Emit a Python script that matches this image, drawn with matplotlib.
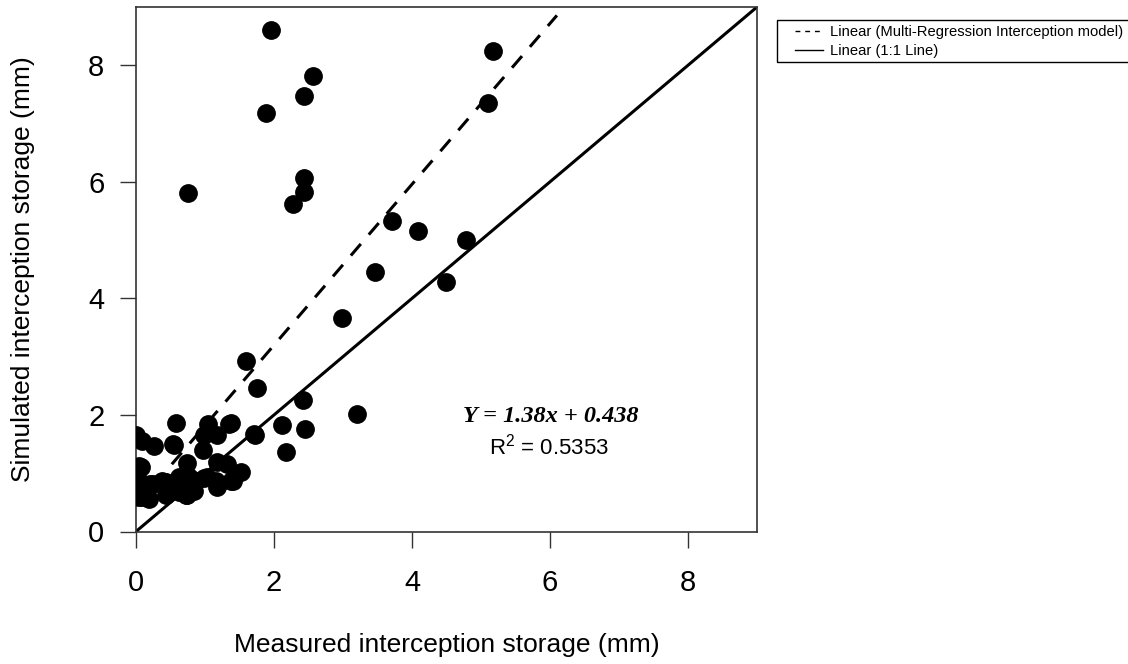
import matplotlib
matplotlib.use("Agg")
import matplotlib.pyplot as plt
import numpy as np
from matplotlib.lines import Line2D
from matplotlib.patches import Rectangle

plt.rcParams['font.family'] = ['Liberation Sans', 'DejaVu Sans']
plt.rcParams['mathtext.fontset'] = 'custom'
plt.rcParams['mathtext.rm'] = 'Liberation Sans'

# Measured (x) vs simulated (y) interception storage, mm
measured = [1.95, 5.18, 2.56, 2.44, 1.89, 5.10, 2.44, 2.44, 2.28, 0.75,
            3.71, 4.08, 4.78, 3.46, 4.50, 2.99, 1.60, 1.76, 2.42, 3.20,
            2.11, 2.45, 2.17, 1.72, 1.37, 0.575, 1.04, 1.18, 0.99, 0.55,
            0.26, 0.09, 0.00, 0.97, 0.74, 1.18, 1.32, 1.52, 1.40, 1.19,
            1.03, 0.87, 0.74, 0.58, 0.43, 0.38, 0.21, 0.09, 0.07, 0.04,
            0.62, 0.77, 0.04, 0.24, 0.43, 0.82, 0.99, 1.16, 1.37, 1.18,
            0.04, 0.19, 0.72, 0.84, 1.71, 1.35, 0.00, 0.53, 0.62]
simulated = [8.61, 8.25, 7.82, 7.47, 7.18, 7.36, 6.06, 5.83, 5.62, 5.80,
             5.32, 5.15, 5.00, 4.45, 4.28, 3.66, 2.92, 2.46, 2.25, 2.02,
             1.83, 1.76, 1.36, 1.65, 1.86, 1.87, 1.85, 1.65, 1.65, 1.49,
             1.47, 1.56, 1.65, 1.40, 1.17, 1.19, 1.16, 1.02, 0.87, 0.82,
             0.93, 0.87, 0.62, 0.76, 0.62, 0.87, 0.82, 0.59, 1.10, 0.87,
             0.93, 0.93, 1.13, 0.82, 0.85, 0.87, 0.91, 0.87, 0.87, 0.76,
             0.59, 0.56, 0.62, 0.70, 1.68, 1.85, 0.75, 1.50, 0.68]

slope = 1.38
intercept = 0.438
fit_x_range = [0.0, 6.1]
one_to_one = [0.0, 9.0]
ticks = [0, 2, 4, 6, 8]

W, H = 1128, 664
fig = plt.figure(figsize=(W/100, H/100), dpi=100)
L, R, T, B = 136, 757, 7, 531.5
ax = fig.add_axes([L/W, 1-B/H, (R-L)/W, (B-T)/H])

ax.plot(measured, simulated, 'o', color='black', markersize=12.5, zorder=3)
fx = np.array(fit_x_range)
ax.plot(fx, slope*fx + intercept, color='black', lw=2.2, dashes=(5, 4), zorder=2)
ax.plot(one_to_one, one_to_one, color='black', lw=2.2, zorder=2)

ax.set_xlim(0, 9)
ax.set_ylim(0, 9)
ax.set_xticks(ticks)
ax.set_yticks(ticks)
ax.tick_params(labelsize=21, length=11.2, width=1, direction='out', color='#333333')
ax.tick_params(axis='x', pad=15.5)
ax.tick_params(axis='y', pad=11.5)
for s in ax.spines.values():
    s.set_linewidth(1.2)
    s.set_color('#333333')

ax.set_xlabel('Measured interception storage (mm)', fontsize=19)
ax.set_ylabel('Simulated interception storage (mm)', fontsize=19)
ax.xaxis.set_label_coords(0.5, (B-645)/(B-T))
ax.xaxis.label.set_va('center')
ax.yaxis.set_label_coords((23-L)/(R-L), 0.5)
ax.yaxis.label.set_va('center')

ax.text(6.01, 1.97, 'Y = 1.38x + 0.438', family=['Liberation Serif', 'DejaVu Serif'],
        fontweight='bold', fontstyle='italic', fontsize=17.5, ha='center', va='center')
ax.text(5.99, 1.45, r'$\mathregular{R^2}$ = 0.5353', fontsize=16, ha='center', va='center')

# legend (frame drawn separately so it can run off the right edge like the original)
handles = [Line2D([], [], color='black', lw=1, dashes=(3.5, 3.5)),
           Line2D([], [], color='black', lw=1)]
labels = ['Linear (Multi-Regression Interception model)', 'Linear (1:1 Line)']
leg = fig.legend(handles, labels, loc='upper left', bbox_to_anchor=(795/W, 1-25/H),
                 fontsize=10.6, frameon=False, handlelength=1.9, handletextpad=0.5,
                 borderpad=0, labelspacing=0.35, borderaxespad=0)
fig.patches.append(Rectangle((777/W, 1-62/H), (1140-777)/W, 42/H, transform=fig.transFigure,
                             fill=False, edgecolor='black', lw=1.0))

fig.savefig('out.png', dpi=100)
